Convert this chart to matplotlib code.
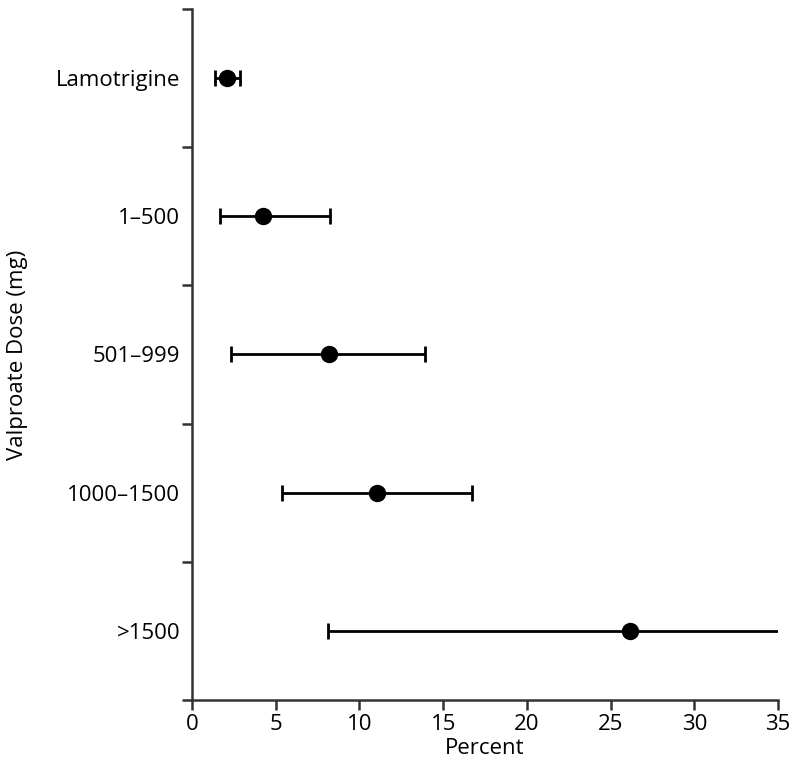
import numpy as np
import matplotlib.pyplot as plt

# data
groups = ['Lamotrigine', '1\u2013500', '501\u2013999', '1000\u20131500', '>1500']
pct = [2.1, 4.25, 8.2, 11.05, 26.15]
ci_low = [1.4, 1.65, 2.35, 5.4, 8.1]
ci_high = [2.85, 8.25, 13.9, 16.7, 38.0]   # last one runs off the axis

plt.rcParams['font.family'] = ['Open Sans', 'DejaVu Sans']

fig = plt.figure(figsize=(8, 7.74), dpi=100)
ax = fig.add_axes([0.24, 0.0956, 0.7325, 0.8928])

ypos = np.arange(len(groups))
pct = np.array(pct)
err = [pct - np.array(ci_low), np.array(ci_high) - pct]

ax.errorbar(pct, ypos, xerr=err, fmt='o', color='black', ms=11.5,
            elinewidth=2, capsize=5.5, capthick=2, clip_on=True)

ax.set_xlim(0, 35)
ax.set_ylim(4.5, -0.5)
ax.set_xticks(range(0, 36, 5))
ax.set_yticks(ypos)
ax.set_yticklabels(groups)
ax.set_yticks(np.arange(-0.5, 5, 1), minor=True)

fs = 16
ax.tick_params(axis='y', which='major', length=0, pad=8.5, labelsize=fs)
ax.tick_params(axis='y', which='minor', length=7, width=1.8, color='#333333')
ax.tick_params(axis='x', length=7, width=1.8, color='#333333', labelsize=fs, pad=3)

for side in ['top', 'right']:
    ax.spines[side].set_visible(False)
for side in ['left', 'bottom']:
    ax.spines[side].set_linewidth(1.8)
    ax.spines[side].set_color('#333333')

ax.set_xlabel('Percent', fontsize=fs, labelpad=2)
ax.set_ylabel('Valproate Dose (mg)', fontsize=fs, labelpad=20)

fig.savefig('out.png', dpi=100)
